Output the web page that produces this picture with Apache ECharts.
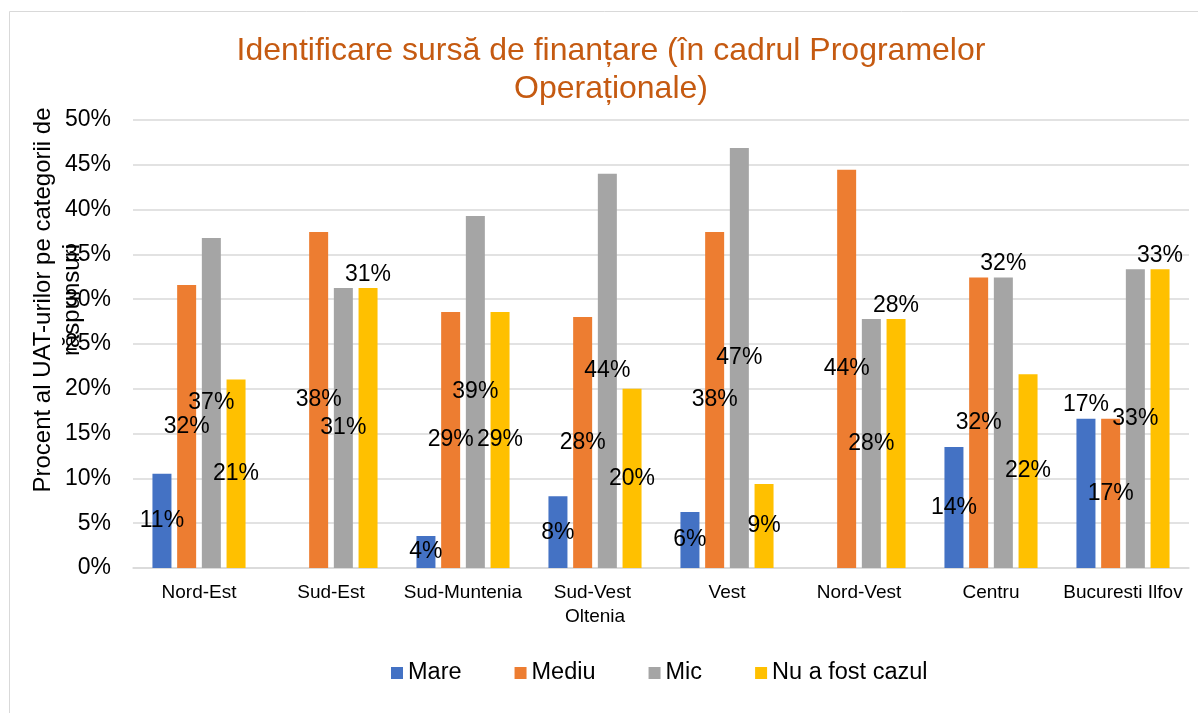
<!DOCTYPE html>
<html>
<head>
<meta charset="utf-8">
<script src="https://cdn.jsdelivr.net/npm/echarts@6/dist/echarts.min.js"></script>
<style>
  html, body { margin: 0; padding: 0; background: #fff; }
  #main { width: 1198px; height: 713px; }
</style>
</head>
<body>
<div id="main"></div>
<script>
// date (procente)
var categories = ['Nord-Est', 'Sud-Est', 'Sud-Muntenia', 'Sud-Vest Oltenia', 'Vest', 'Nord-Vest', 'Centru', 'Bucuresti Ilfov'];
var seriesNames = ['Mare', 'Mediu', 'Mic', 'Nu a fost cazul'];
var mare = [10.53, 0, 3.57, 8, 6.25, 0, 13.51, 16.67];
var mediu = [31.58, 37.5, 28.57, 28, 37.5, 44.44, 32.43, 16.67];
var mic = [36.84, 31.25, 39.29, 44, 46.88, 27.78, 32.43, 33.33];
var nuAFostCazul = [21.05, 31.25, 28.57, 20, 9.38, 27.78, 21.62, 33.33];
var yTicks = [0, 5, 10, 15, 20, 25, 30, 35, 40, 45, 50];

var colors = ['#4472C4', '#ED7D31', '#A5A5A5', '#FFC000'];
// etichetele mutate deasupra barei (ca in Excel)
var labelsOnTop = [[7], [], [6], [1, 5, 7]];

var myChart = echarts.init(document.getElementById('main'));

function buildSeries(values, idx) {
    return {
        name: seriesNames[idx],
        type: 'bar',
        barWidth: 19,
        barGap: '30%',
        itemStyle: { color: colors[idx] },
        label: {
            show: true,
            position: 'inside',
            color: '#000',
            fontSize: 23,
            fontFamily: 'Liberation Sans, Arial, sans-serif',
            formatter: function (p) {
                return p.value ? Math.round(p.value) + '%' : '';
            }
        },
        data: values.map(function (v, i) {
            if (labelsOnTop[idx].indexOf(i) >= 0) {
                return { value: v, label: { position: 'top', distance: 2 } };
            }
            return v;
        })
    };
}

var option = {
    animation: false,
    color: colors,
    graphic: [{
        type: 'rect',
        silent: true,
        shape: { x: 9.5, y: 11.5, width: 1300, height: 800 },
        style: { fill: 'none', stroke: '#d9d9d9', lineWidth: 1 }
    }],
    title: {
        text: 'Identificare sursă de finanțare (în cadrul Programelor\nOperaționale)',
        left: 606,
        top: 27,
        textAlign: 'center',
        textStyle: {
            color: '#C55A11',
            fontSize: 32,
            fontWeight: 'normal',
            lineHeight: 38,
            fontFamily: 'Liberation Sans, Arial, sans-serif'
        }
    },
    legend: {
        data: seriesNames,
        left: 386,
        top: 656,
        itemWidth: 12,
        itemHeight: 12,
        itemGap: 53,
        icon: 'rect',
        textStyle: {
            fontSize: 23.5,
            color: '#000',
            fontFamily: 'Liberation Sans, Arial, sans-serif'
        }
    },
    grid: {
        left: 133,
        right: 9,
        top: 120,
        bottom: 145,
        outerBoundsMode: 'none'
    },
    xAxis: {
        type: 'category',
        data: categories,
        axisTick: { show: false },
        axisLine: { lineStyle: { color: '#d9d9d9', width: 1.5 } },
        axisLabel: {
            interval: 0,
            margin: 13,
            color: '#000',
            fontSize: 19,
            lineHeight: 24,
            width: 125,
            overflow: 'break',
            fontFamily: 'Liberation Sans, Arial, sans-serif'
        }
    },
    yAxis: {
        type: 'value',
        min: yTicks[0],
        max: yTicks[yTicks.length - 1],
        interval: yTicks[1] - yTicks[0],
        name: 'Procent al UAT-urilor pe categorii de\nrăspunsuri',
        nameLocation: 'middle',
        nameRotate: 90,
        nameGap: 46,
        nameMoveOverlap: false,
        nameTextStyle: {
            fontSize: 24,
            lineHeight: 29,
            color: '#000',
            padding: [0, 0, 0, 88],
            fontFamily: 'Liberation Sans, Arial, sans-serif'
        },
        axisLine: { show: false },
        axisTick: { show: false },
        splitLine: { lineStyle: { color: '#d9d9d9', width: 1.5 } },
        axisLabel: {
            margin: 22,
            color: '#000',
            fontSize: 23,
            fontFamily: 'Liberation Sans, Arial, sans-serif',
            formatter: '{value}%'
        }
    },
    series: [
        buildSeries(mare, 0),
        buildSeries(mediu, 1),
        buildSeries(mic, 2),
        buildSeries(nuAFostCazul, 3)
    ]
};

myChart.setOption(option);
</script>
</body>
</html>
